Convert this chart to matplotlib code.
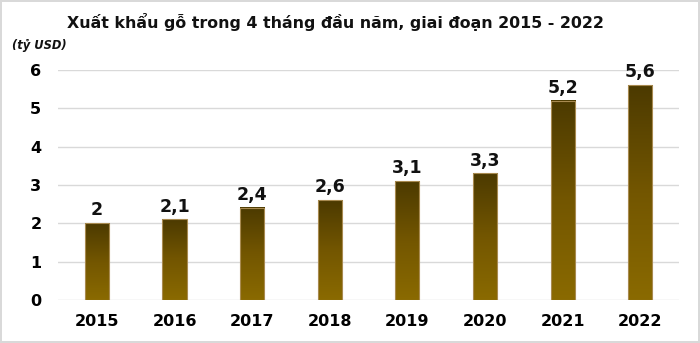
import matplotlib
matplotlib.use("Agg")
import matplotlib.pyplot as plt
import numpy as np
from matplotlib.colors import LinearSegmentedColormap

years = ["2015", "2016", "2017", "2018", "2019", "2020", "2021", "2022"]
values = [2.0, 2.1, 2.4, 2.6, 3.1, 3.3, 5.2, 5.6]
labels = ["2", "2,1", "2,4", "2,6", "3,1", "3,3", "5,2", "5,6"]
yticks = [0, 1, 2, 3, 4, 5, 6]

fig = plt.figure(figsize=(7, 3.43), dpi=100)
fig.patch.set_facecolor("white")
fig.patch.set_edgecolor("#d9d9d9")
fig.patch.set_linewidth(1.5)
ax = fig.add_axes([0.083, 0.1254, 0.887, 0.6706])

x = np.arange(len(years))
w = 0.31
cmap = LinearSegmentedColormap.from_list("g", ["#8a6a00", "#735600", "#4c3a00"])
grad = np.linspace(0, 1, 256).reshape(-1, 1)
bars = ax.bar(x, values, width=w, color="none", edgecolor="#a88a50", linewidth=0.8, zorder=3)
for xi, v in zip(x, values):
    ax.imshow(grad, extent=[xi - w / 2, xi + w / 2, 0, v], origin="lower", cmap=cmap,
              aspect="auto", zorder=2)
for xi, v, lab in zip(x, values, labels):
    ax.text(xi, v + 0.1, lab, ha="center", va="bottom", fontsize=12.5, fontweight="bold",
            color="#111111", zorder=4)

ax.set_xlim(-0.5, len(years) - 0.5)
ax.set_ylim(0, 6)
ax.set_yticks(yticks)
ax.set_yticklabels([str(t) for t in yticks], fontsize=11.5, fontweight="bold")
ax.set_xticks(x)
ax.set_xticklabels(years, fontsize=11.5, fontweight="bold")
ax.tick_params(length=0)
ax.tick_params(axis="x", pad=10)
ax.tick_params(axis="y", pad=12)
ax.grid(axis="y", color="#d9d9d9", linewidth=1, zorder=0)
for s in ax.spines.values():
    s.set_visible(False)
ax.set_axisbelow(True)

fig.text(0.479, 0.936, "Xuất khẩu gỗ trong 4 tháng đầu năm, giai đoạn 2015 - 2022",
         ha="center", va="center", fontsize=11.4, fontweight="bold", color="#111111")
fig.text(0.017, 0.866, "(tỷ USD)", ha="left", va="center", fontsize=8.3,
         fontweight="bold", fontstyle="italic", color="#111111")

fig.savefig("out.png", dpi=100)
